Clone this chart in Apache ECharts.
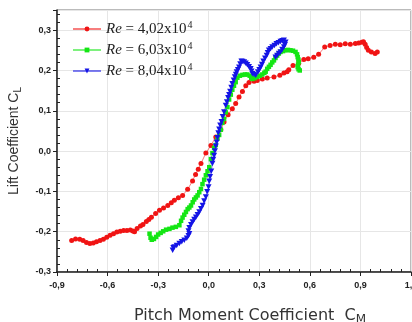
<!DOCTYPE html>
<html>
<head>
<meta charset="utf-8">
<script src="https://cdn.jsdelivr.net/npm/echarts@6/dist/echarts.min.js"></script>
<style>
  html, body { margin: 0; padding: 0; background: #fff; }
  #chart { width: 412px; height: 322px; }
</style>
</head>
<body>
<div id="chart"></div>
<script>
// Re numbers shown in the legend (x10^4)
var reLabels = ['4,02', '6,03', '8,04'];
var seriesColors = ['#f01414', '#14e614', '#1414e6'];
var seriesSymbols = ['circle', 'rect', 'path://M0,0 L10,0 L5,9 Z'];

// pitch moment coefficient C_M vs lift coefficient C_L
var re402 = [[-0.813,-0.222],[-0.79,-0.218],[-0.765,-0.219],[-0.745,-0.222],[-0.725,-0.227],[-0.705,-0.229],[-0.685,-0.228],[-0.666,-0.225],[-0.645,-0.222],[-0.625,-0.219],[-0.605,-0.214],[-0.585,-0.209],[-0.565,-0.205],[-0.545,-0.201],[-0.525,-0.199],[-0.505,-0.197],[-0.485,-0.197],[-0.465,-0.196],[-0.45,-0.198],[-0.44,-0.2],[-0.425,-0.192],[-0.405,-0.186],[-0.39,-0.182],[-0.37,-0.175],[-0.355,-0.17],[-0.34,-0.164],[-0.315,-0.155],[-0.292,-0.147],[-0.268,-0.141],[-0.243,-0.135],[-0.222,-0.128],[-0.204,-0.122],[-0.18,-0.116],[-0.155,-0.11],[-0.125,-0.095],[-0.096,-0.074],[-0.078,-0.058],[-0.062,-0.045],[-0.046,-0.031],[-0.017,-0.005],[0.013,0.014],[0.042,0.035],[0.072,0.053],[0.091,0.072],[0.115,0.09],[0.14,0.105],[0.16,0.118],[0.18,0.134],[0.2,0.148],[0.22,0.162],[0.239,0.17],[0.269,0.173],[0.288,0.175],[0.318,0.179],[0.347,0.181],[0.387,0.184],[0.422,0.188],[0.446,0.194],[0.465,0.197],[0.475,0.202],[0.5,0.212],[0.534,0.218],[0.564,0.227],[0.59,0.229],[0.623,0.233],[0.652,0.24],[0.688,0.258],[0.72,0.262],[0.751,0.265],[0.78,0.264],[0.81,0.266],[0.84,0.265],[0.87,0.267],[0.89,0.268],[0.908,0.27],[0.918,0.271],[0.928,0.265],[0.937,0.257],[0.947,0.25],[0.965,0.246],[0.987,0.242],[1.0,0.246]];

var re603 = [[-0.351,-0.205],[-0.345,-0.215],[-0.338,-0.22],[-0.325,-0.218],[-0.312,-0.213],[-0.3,-0.207],[-0.285,-0.203],[-0.27,-0.199],[-0.253,-0.195],[-0.233,-0.193],[-0.215,-0.19],[-0.195,-0.188],[-0.174,-0.184],[-0.164,-0.173],[-0.155,-0.165],[-0.145,-0.158],[-0.135,-0.151],[-0.125,-0.144],[-0.115,-0.14],[-0.105,-0.135],[-0.095,-0.127],[-0.086,-0.12],[-0.076,-0.115],[-0.066,-0.11],[-0.056,-0.102],[-0.046,-0.094],[-0.037,-0.082],[-0.027,-0.071],[-0.017,-0.06],[-0.007,-0.05],[0.003,-0.04],[0.013,-0.02],[0.022,-0.005],[0.032,0.008],[0.042,0.015],[0.052,0.031],[0.062,0.04],[0.072,0.053],[0.081,0.07],[0.091,0.08],[0.101,0.096],[0.111,0.109],[0.121,0.128],[0.131,0.14],[0.14,0.152],[0.15,0.162],[0.16,0.171],[0.17,0.182],[0.185,0.187],[0.2,0.189],[0.215,0.19],[0.229,0.19],[0.243,0.187],[0.252,0.182],[0.259,0.179],[0.273,0.181],[0.288,0.184],[0.303,0.187],[0.318,0.19],[0.33,0.194],[0.338,0.197],[0.347,0.204],[0.357,0.209],[0.367,0.214],[0.377,0.22],[0.387,0.225],[0.396,0.231],[0.406,0.237],[0.416,0.242],[0.426,0.246],[0.441,0.248],[0.456,0.25],[0.47,0.251],[0.485,0.25],[0.5,0.249],[0.515,0.246],[0.524,0.24],[0.528,0.233],[0.532,0.227],[0.534,0.221],[0.53,0.214],[0.528,0.208],[0.533,0.203],[0.54,0.2]];

var re804 = [[-0.214,-0.246],[-0.21,-0.24],[-0.204,-0.238],[-0.19,-0.234],[-0.174,-0.229],[-0.16,-0.225],[-0.145,-0.221],[-0.13,-0.216],[-0.12,-0.21],[-0.115,-0.205],[-0.12,-0.198],[-0.115,-0.19],[-0.105,-0.183],[-0.096,-0.176],[-0.086,-0.17],[-0.076,-0.164],[-0.066,-0.158],[-0.056,-0.151],[-0.046,-0.143],[-0.036,-0.135],[-0.027,-0.124],[-0.017,-0.114],[-0.009,-0.101],[-0.001,-0.089],[0.003,-0.075],[0.008,-0.064],[0.015,-0.05],[0.022,-0.031],[0.027,-0.021],[0.032,-0.011],[0.037,0.0],[0.042,0.012],[0.047,0.022],[0.052,0.033],[0.057,0.045],[0.062,0.054],[0.068,0.064],[0.076,0.073],[0.083,0.085],[0.091,0.097],[0.101,0.113],[0.108,0.122],[0.115,0.132],[0.121,0.14],[0.127,0.148],[0.134,0.158],[0.14,0.167],[0.148,0.176],[0.155,0.184],[0.161,0.19],[0.166,0.196],[0.173,0.202],[0.18,0.208],[0.187,0.216],[0.194,0.223],[0.2,0.222],[0.21,0.221],[0.22,0.218],[0.229,0.214],[0.239,0.209],[0.249,0.204],[0.254,0.198],[0.259,0.192],[0.269,0.19],[0.279,0.188],[0.292,0.196],[0.3,0.202],[0.308,0.208],[0.316,0.215],[0.324,0.223],[0.334,0.23],[0.344,0.237],[0.35,0.244],[0.357,0.25],[0.367,0.254],[0.377,0.258],[0.39,0.262],[0.402,0.266],[0.414,0.269],[0.426,0.272],[0.436,0.274],[0.446,0.275],[0.456,0.27],[0.452,0.264],[0.446,0.258],[0.436,0.252],[0.426,0.246],[0.416,0.242],[0.406,0.237],[0.396,0.233]];

var allData = [re402, re603, re804];

function commaLabel(v){
	if (Math.abs(v * 10 - Math.round(v * 10)) > 1e-6) return '';
	return v.toFixed(1).replace('.', ',');
}

var chart = echarts.init(document.getElementById('chart'));

var symbolSizes = [5, 4.5, [6, 5.5]];
var series = [];
for (var i = 0; i < allData.length; i++) {
	series.push({
		name: 'Re' + i,
		type: 'line',
		data: allData[i],
		symbol: seriesSymbols[i],
		symbolSize: symbolSizes[i],
		showAllSymbol: true,
		animation: false,
		itemStyle: { color: seriesColors[i] },
		lineStyle: { color: seriesColors[i], width: 1, opacity: 0.55 }
	});
}

var axisTextStyle = { fontFamily: 'Liberation Sans', fontWeight: 'bold', fontSize: 9, color: '#222' };

var option = {
	backgroundColor: '#fff',
	animation: false,
	grid: { left: 57, right: 1, top: 10, bottom: 50, outerBoundsMode: 'none', show: true, borderColor: '#777', borderWidth: 1 },
	legend: {
		left: 67, top: 15, orient: 'vertical',
		itemWidth: 28, itemHeight: 6, itemGap: 4,
		data: ['Re0', 'Re1', 'Re2'],
		formatter: function(name){
			var k = parseInt(name.slice(2));
			return '{it|Re} = ' + reLabels[k] + 'x10{sup|4}';
		},
		textStyle: {
			fontFamily: 'Liberation Serif', fontSize: 15, color: '#222', lineHeight: 16,
			rich: {
				it: { fontFamily: 'Liberation Serif', fontSize: 15, fontStyle: 'italic', color: '#222' },
				sup: { fontFamily: 'Liberation Serif', fontSize: 10, color: '#222', padding: [0, 0, 8, 1] }
			}
		}
	},
	xAxis: {
		type: 'value', min: -0.9, max: 1.2, interval: 0.3,
		name: 'Pitch Moment Coefficient  C{sub|M}',
		nameLocation: 'middle', nameGap: 34,
		nameTextStyle: {
			fontFamily: 'DejaVu Sans', fontSize: 16, color: '#333', padding: [0, 0, 0, 32],
			rich: { sub: { fontFamily: 'DejaVu Sans', fontSize: 12, color: '#333', padding: [8, 0, 0, 0] } }
		},
		axisLine: { onZero: false, lineStyle: { color: '#222', width: 1.5 } },
		axisTick: { length: 4, lineStyle: { color: '#222' } },
		minorTick: { show: true, splitNumber: 5, length: -3, lineStyle: { color: '#222' } },
		splitLine: { lineStyle: { color: '#e6e6e6' } },
		axisLabel: Object.assign({ margin: 9, formatter: commaLabel }, axisTextStyle)
	},
	yAxis: {
		type: 'value', min: -0.3, max: 0.35, interval: 0.1,
		name: 'Lift Coefficient C{sub|L}',
		nameLocation: 'middle', nameGap: 34,
		nameTextStyle: {
			fontFamily: 'Liberation Sans', fontSize: 14, color: '#333',
			rich: { sub: { fontFamily: 'Liberation Sans', fontSize: 10, color: '#333', padding: [8, 0, 0, 0] } }
		},
		axisLine: { onZero: false, lineStyle: { color: '#222', width: 1.5 } },
		axisTick: { length: 4, lineStyle: { color: '#222' } },
		minorTick: { show: true, splitNumber: 5, length: -3, lineStyle: { color: '#222' } },
		splitLine: { lineStyle: { color: '#e6e6e6' } },
		axisLabel: Object.assign({ margin: 6, formatter: commaLabel }, axisTextStyle)
	},
	series: series
};

chart.setOption(option);
</script>
</body>
</html>
